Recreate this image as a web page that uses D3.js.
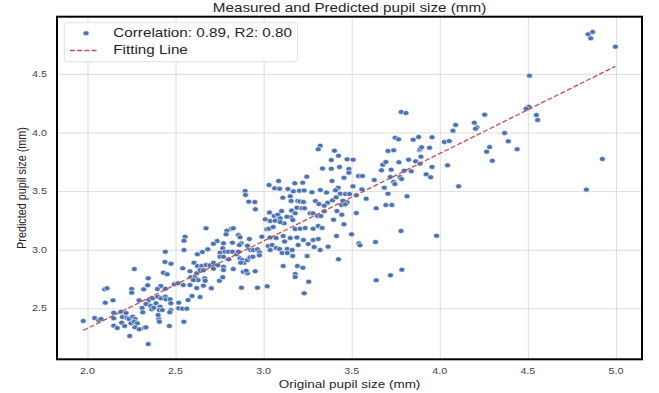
<!DOCTYPE html>
<html><head><meta charset="utf-8">
<script src="https://cdn.jsdelivr.net/npm/d3@7"></script>
<style>html,body{margin:0;padding:0;background:#fff;}svg{display:block;}</style>
</head><body><svg id="chart" width="659" height="393"></svg>
<script>
// ---- data ----
const originalSize = [
// lower-left cluster
2.442,2.440,2.474,2.431,2.452,2.493,2.513,2.266,2.345,2.342,
2.416,2.442,2.098,2.111,2.251,2.251,2.319,2.397,2.145,2.101,
2.293,2.342,2.348,2.332,2.370,2.399,2.418,2.442,2.446,2.469,
2.518,2.310,2.314,2.359,2.365,2.376,2.389,2.412,2.408,2.425,
2.473,2.473,2.467,2.518,2.149,2.190,2.219,2.149,2.198,2.224,
2.236,2.257,2.270,2.041,2.064,2.077,1.976,2.194,2.247,2.266,
2.283,2.405,2.408,2.401,2.149,2.169,2.211,2.270,2.294,2.323,
2.332,2.465,2.240,2.345,
// 2.5 - 3.0
2.895,2.897,2.916,2.950,2.953,2.673,2.815,2.828,2.791,2.787,
2.857,2.866,2.919,2.990,2.554,2.548,2.736,2.715,2.772,2.768,
2.823,2.872,2.862,2.908,2.927,2.942,2.965,2.976,2.548,2.683,
2.652,2.624,2.753,2.781,2.800,2.823,2.753,2.772,2.802,2.848,
2.857,2.866,2.878,2.889,2.908,2.923,2.939,2.976,2.541,2.582,
2.605,2.624,2.649,2.673,2.696,2.586,2.611,2.620,2.639,2.658,
2.715,2.715,2.740,2.772,2.772,2.828,2.870,2.885,2.908,2.952,
2.666,2.668,2.628,2.601,2.749,2.768,2.544,2.582,2.620,2.658,
2.703,2.874,2.965,2.901,
2.539,2.564,2.547,2.571,2.594,2.639,
// 3.0 - 3.4
3.321,3.310,3.334,3.245,3.031,3.085,3.063,3.091,3.138,3.177,3.222,3.169,3.203,
3.230,3.274,3.322,3.357,3.109,3.151,3.156,3.194,3.207,3.226,3.294,3.314,3.363,
3.033,3.009,3.060,3.037,3.081,3.102,3.065,3.094,3.116,3.155,3.159,3.166,3.179,3.189,
3.217,3.232,3.264,3.280,3.344,3.344,3.306,3.325,3.132,3.018,3.030,3.054,3.094,3.179,
3.207,3.236,3.281,3.310,3.332,
3.037,3.071,3.111,3.151,3.119,3.189,3.226,3.281,3.310,3.196,3.253,3.287,3.321,3.026,
3.048,3.071,3.037,3.091,3.134,3.162,3.105,3.134,3.165,3.247,3.366,3.111,3.192,3.223,
3.179,3.179,3.256,3.020,3.230,
// 3.4 - 4.25
3.781,3.808,4.090,4.075,4.196,4.211,4.203,3.747,3.766,3.849,
3.880,3.956,4.026,4.054,3.942,3.884,3.889,3.897,3.706,3.738,
3.402,3.425,3.384,3.474,3.508,3.677,3.694,3.768,3.823,3.863,
3.888,3.893,4.044,3.956,3.431,3.384,3.484,3.484,3.669,3.724,
3.838,3.798,3.923,3.948,3.456,3.539,3.561,3.628,3.719,3.774,
3.783,3.738,3.745,3.388,3.507,3.685,4.107,3.423,3.408,3.558,
3.435,3.465,3.488,3.526,3.582,3.706,3.814,3.391,3.412,3.450,
3.474,3.442,3.463,3.694,3.728,3.639,3.416,3.444,3.526,3.397,
3.456,3.414,3.499,3.780,3.982,3.541,3.547,3.635,3.425,3.785,
3.720,3.639,
// upper-right
4.842,4.868,4.857,4.997,4.509,4.495,4.505,4.490,4.548,4.556,
4.255,4.368,4.389,4.283,4.266,4.298,4.439,4.923,4.832
];
const predictedSize = [
2.983,2.895,2.881,2.804,2.790,2.705,2.713,2.835,2.756,2.696,
2.690,2.667,2.662,2.671,2.665,2.633,2.662,2.665,2.568,2.548,
2.568,2.543,2.571,2.537,2.585,2.599,2.585,2.599,2.577,2.577,
2.548,2.503,2.466,2.520,2.491,2.505,2.543,2.514,2.485,2.485,
2.543,2.485,2.466,2.500,2.462,2.471,2.460,2.415,2.426,2.420,
2.409,2.428,2.409,2.417,2.398,2.409,2.392,2.377,2.372,2.386,
2.372,2.409,2.386,2.443,2.352,2.332,2.349,2.338,2.321,2.334,
2.338,2.349,2.264,2.195,
3.501,3.467,3.410,3.407,3.345,3.183,3.177,3.183,3.162,3.131,
3.125,3.106,3.091,3.111,3.111,3.077,3.074,3.051,3.055,3.012,
3.060,3.055,3.040,3.034,2.997,2.997,3.003,2.978,2.997,3.003,
2.980,2.961,2.974,2.983,2.983,2.983,2.940,2.940,2.918,2.961,
2.983,2.927,2.912,2.889,2.912,2.935,2.940,2.952,2.841,2.816,
2.889,2.861,2.861,2.869,2.867,2.765,2.761,2.799,2.827,2.824,
2.889,2.838,2.867,2.855,2.827,2.835,2.889,2.812,2.799,2.816,
2.756,2.735,2.741,2.741,2.735,2.765,2.699,2.699,2.673,2.693,
2.671,2.676,2.676,2.821,
2.497,2.497,2.386,2.571,2.605,2.596,
3.887,3.857,3.693,3.623,3.552,3.586,3.524,3.520,3.518,3.567,3.572,3.498,3.503,
3.505,3.490,3.509,3.488,3.444,3.456,3.416,3.416,3.411,3.407,3.416,3.390,3.401,
3.317,3.259,3.288,3.245,3.299,3.330,3.247,3.268,3.225,3.276,3.334,3.253,3.311,3.358,
3.354,3.354,3.311,3.311,3.375,3.328,3.288,3.288,3.282,3.174,3.179,3.194,3.236,3.177,
3.179,3.185,3.179,3.202,3.185,
3.104,3.100,3.117,3.100,3.070,3.104,3.083,3.083,3.091,3.040,3.049,3.023,2.997,3.032,
3.040,3.015,2.997,3.006,3.006,2.997,2.972,2.972,2.946,2.946,3.026,2.861,2.861,2.846,
2.793,2.767,2.727,2.688,2.628,
4.175,4.166,4.064,4.015,4.084,4.044,4.032,3.956,3.942,3.939,
3.962,3.959,3.919,3.927,3.870,3.851,3.859,3.874,3.842,3.848,
3.845,3.802,3.765,3.771,3.768,3.725,3.748,3.746,3.768,3.754,
3.734,3.794,3.720,3.706,3.706,3.691,3.689,3.657,3.677,3.683,
3.669,3.674,3.643,3.618,3.614,3.629,3.629,3.595,3.620,3.620,
3.603,3.578,3.560,3.586,3.541,3.529,3.541,3.529,3.507,3.515,
3.478,3.475,3.475,3.464,3.435,3.478,3.456,3.421,3.447,3.418,
3.404,3.381,3.387,3.381,3.381,3.353,3.330,3.299,3.313,3.256,
3.217,3.117,3.131,3.160,3.119,3.055,3.038,3.066,2.918,2.829,
2.782,2.739,
4.838,4.858,4.804,4.732,4.485,4.212,4.220,4.203,4.149,4.107,
4.152,3.996,3.925,3.876,3.836,3.759,3.857,3.774,3.512
];
const xTicks = [2.0, 2.5, 3.0, 3.5, 4.0, 4.5, 5.0];
const yTicks = [2.5, 3.0, 3.5, 4.0, 4.5];
const fitSlope = 0.746, fitIntercept = 0.837;
const titleText = "Measured and Predicted pupil size (mm)";
const xLabelText = "Original pupil size (mm)";
const yLabelText = "Predicted pupil size (mm)";
const legendLabels = ["Correlation: 0.89, R2: 0.80", "Fitting Line"];

// ---- drawing ----
const n = Math.min(originalSize.length, predictedSize.length);
const points = d3.range(n).map(i => ({x: originalSize[i], y: predictedSize[i]}));
const box = {left: 57, right: 642, top: 16.7, bottom: 359.3};
const x = d3.scaleLinear().domain([1.827, 5.148]).range([box.left, box.right]);
const y = d3.scaleLinear().domain([2.065, 4.988]).range([box.bottom, box.top]);
const SX = 1.25;
const FONT = "'Liberation Sans', Arial, Helvetica, sans-serif";
const svg = d3.select("#chart");
const blue = "#4c72b0", red = "#c44e52";

svg.append("rect").attr("width", 659).attr("height", 393).attr("fill", "#fff");

// grid via axes
const gx = svg.append("g").attr("transform", `translate(0,${box.bottom})`)
  .call(d3.axisBottom(x).tickValues(xTicks).tickSize(-(box.bottom - box.top)).tickFormat(""));
const gy = svg.append("g").attr("transform", `translate(${box.left},0)`)
  .call(d3.axisLeft(y).tickValues(yTicks).tickSize(-(box.right - box.left)).tickFormat(""));
[gx, gy].forEach(g => {
  g.select(".domain").remove();
  g.selectAll(".tick line").attr("stroke", "#dcdcdc").attr("stroke-width", 1);
});

// stretched text helper
function label(txt, px, py, size, anchor, opts = {}) {
  const g = svg.append("g").attr("transform",
    `translate(${px},${py}) scale(${SX},1)` + (opts.rotate ? ` rotate(${opts.rotate})` : ""));
  g.append("text").text(txt)
    .attr("text-anchor", anchor)
    .attr("dominant-baseline", opts.baseline || "central")
    .attr("font-family", FONT).attr("font-size", size)
    .attr("fill", opts.color || "#262626");
  return g;
}

// tick labels
xTicks.forEach(t => label(d3.format(".1f")(t), x(t), 370.5, 8.6, "middle", {color: "#444"}));
yTicks.forEach(t => label(d3.format(".1f")(t), 47, y(t), 8.6, "end", {color: "#444"}));

// points
svg.append("g").selectAll("ellipse").data(points).join("ellipse")
  .attr("cx", d => x(d.x)).attr("cy", d => y(d.y))
  .attr("rx", 3.0).attr("ry", 2.5)
  .attr("fill", blue).attr("stroke", "#fff").attr("stroke-width", 0.6);

// fitting line
const ext = d3.extent(originalSize);
svg.append("path")
  .datum(ext.map(v => ({x: v, y: fitIntercept + fitSlope * v})))
  .attr("d", d3.line().x(d => x(d.x)).y(d => y(d.y)))
  .attr("fill", "none").attr("stroke", red).attr("stroke-width", 1.3)
  .attr("stroke-dasharray", "5,2.2");

// frame
svg.append("rect").attr("x", box.left).attr("y", box.top)
  .attr("width", box.right - box.left).attr("height", box.bottom - box.top)
  .attr("fill", "none").attr("stroke", "#000").attr("stroke-width", 2);

// titles
label(titleText, (box.left + box.right) / 2, 11.7, 12.2, "middle", {baseline: "auto"});
label(xLabelText, (box.left + box.right) / 2, 384, 10.8, "middle");
label(yLabelText, 21.7, (box.top + box.bottom) / 2, 10.8, "middle", {rotate: -90});

// legend
const lg = svg.append("g");
lg.append("rect").attr("x", 64.3).attr("y", 22.7).attr("width", 233.4).attr("height", 39)
  .attr("rx", 3).attr("fill", "#fff").attr("fill-opacity", 0.85)
  .attr("stroke", "#d6d6d6").attr("stroke-width", 0.8);
lg.append("ellipse").attr("cx", 86).attr("cy", 33.3).attr("rx", 3.0).attr("ry", 2.5)
  .attr("fill", blue).attr("stroke", "#fff").attr("stroke-width", 0.6);
lg.append("line").attr("x1", 70).attr("x2", 98.7).attr("y1", 50.5).attr("y2", 50.5)
  .attr("stroke", red).attr("stroke-width", 1.3).attr("stroke-dasharray", "5,2.2");
label(legendLabels[0], 113.3, 33.3, 12.2, "start");
label(legendLabels[1], 113.3, 50.5, 12.2, "start");
</script></body></html>
